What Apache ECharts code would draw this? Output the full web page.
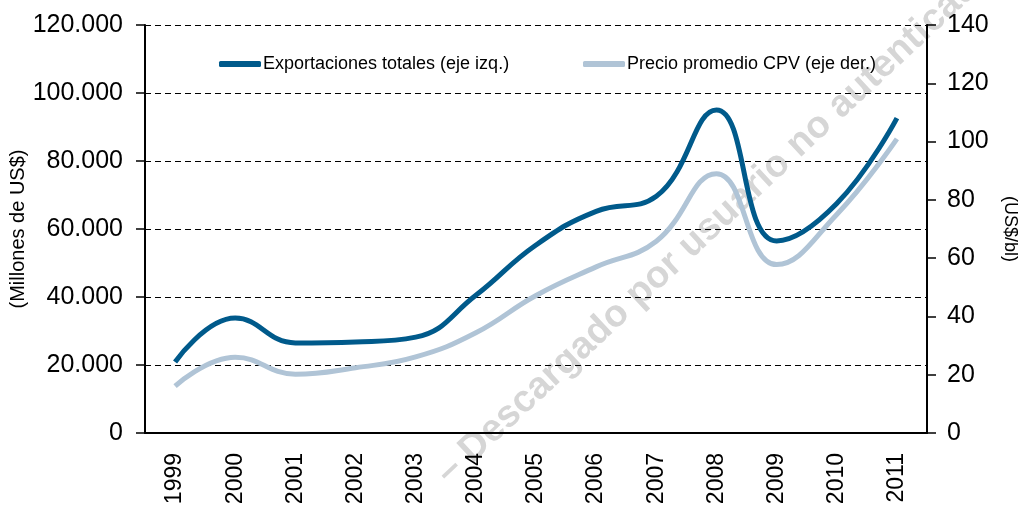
<!DOCTYPE html>
<html>
<head>
<meta charset="utf-8">
<script src="https://cdn.jsdelivr.net/npm/echarts@6/dist/echarts.min.js"></script>
<style>
  html, body { margin: 0; padding: 0; background: #fff; }
  #chart { width: 1028px; height: 509px; }
</style>
</head>
<body>
<div id="chart"></div>
<script>
var years = ['1999','2000','2001','2002','2003','2004','2005','2006','2007','2008','2009','2010','2011'];
var exportaciones = [20900, 33800, 26500, 26800, 28200, 40500, 55300, 65200, 69600, 95000, 56500, 67500, 92600];
var precioCPV = [16.1, 26.0, 20.2, 22.4, 26.1, 34.4, 47.2, 57.0, 65.8, 89.0, 57.8, 75.0, 100.9];
var leftTicks = [0, 20000, 40000, 60000, 80000, 100000, 120000];
var rightTicks = [0, 20, 40, 60, 80, 100, 120, 140];

var chart = echarts.init(document.getElementById('chart'));

function miles(v) {
    // 120000 -> 120.000
    return String(v).replace(/\B(?=(\d{3})+(?!\d))/g, '.');
}

var font = 'Liberation Sans, Arial, sans-serif';

option = {
    animation: false,
    grid: {
        left: 145,
        right: 101,
        top: 25,
        bottom: 76,
        containLabel: false,
        outerBoundsMode: 'none'
    },
    legend: [
        {
            left: 214,
            top: 50,
            itemWidth: 42,
            itemHeight: 6,
            itemGap: 4,
            icon: 'roundRect',
            textStyle: { fontFamily: font, fontSize: 18, color: '#000', padding: [0, 0, 0, -3] },
            data: ['Exportaciones totales (eje izq.)']
        },
        {
            left: 578,
            top: 50,
            itemWidth: 42,
            itemHeight: 6,
            icon: 'roundRect',
            textStyle: { fontFamily: font, fontSize: 18, color: '#000', padding: [0, 0, 0, -3] },
            data: ['Precio promedio CPV (eje der.)']
        }
    ],
    graphic: [
        {
            type: 'text',
            x: 716,
            y: 222,
            rotation: 43 * Math.PI / 180,
            z: -1,
            style: {
                text: '– Descargado por usuario no autenticado',
                font: 'bold 38px Liberation Sans, Arial, sans-serif',
                fill: '#d6d6d6',
                align: 'center',
                verticalAlign: 'middle'
            }
        }
    ],
    xAxis: {
        type: 'category',
        data: years,
        boundaryGap: true,
        axisLine: { lineStyle: { color: '#000', width: 2 } },
        axisTick: { show: false },
        axisLabel: {
            rotate: 90,
            margin: 20,
            fontFamily: font,
            fontSize: 23,
            color: '#000'
        }
    },
    yAxis: [
        {
            type: 'value',
            min: 0,
            max: 120000,
            interval: 20000,
            name: '(Millones de US$)',
            nameLocation: 'middle',
            nameRotate: 90,
            nameGap: 117,
            nameMoveOverlap: false,
            nameTextStyle: { fontFamily: font, fontSize: 20, color: '#000' },
            axisLine: { show: true, lineStyle: { color: '#000', width: 2 } },
            axisTick: { show: true, length: 9, lineStyle: { color: '#000', width: 1.5 } },
            axisLabel: {
                margin: 22,
                fontFamily: font,
                fontSize: 25,
                color: '#000',
                formatter: function (v) { return leftTicks.indexOf(v) >= 0 ? miles(v) : ''; }
            },
            splitLine: { show: true, lineStyle: { color: '#000', type: [6, 4], width: 1.2 } }
        },
        {
            type: 'value',
            min: 0,
            max: 140,
            interval: 20,
            position: 'right',
            name: '(US$/bl)',
            nameLocation: 'middle',
            nameRotate: -90,
            nameGap: 74,
            nameMoveOverlap: false,
            nameTextStyle: { fontFamily: font, fontSize: 18, color: '#000' },
            axisLine: { show: true, lineStyle: { color: '#000', width: 2 } },
            axisTick: { show: true, length: 9, lineStyle: { color: '#000', width: 1.5 } },
            axisLabel: {
                margin: 20,
                fontFamily: font,
                fontSize: 25,
                color: '#000',
                formatter: function (v) { return rightTicks.indexOf(v) >= 0 ? String(v) : ''; }
            },
            splitLine: { show: false }
        }
    ],
    series: [
        {
            name: 'Precio promedio CPV (eje der.)',
            type: 'line',
            yAxisIndex: 1,
            data: precioCPV,
            smooth: 0.45,
            symbol: 'none',
            color: '#b0c4d6',
            lineStyle: { width: 5, color: '#b0c4d6' }
        },
        {
            name: 'Exportaciones totales (eje izq.)',
            type: 'line',
            yAxisIndex: 0,
            data: exportaciones,
            smooth: 0.45,
            symbol: 'none',
            color: '#005a8b',
            lineStyle: { width: 5, color: '#005a8b' }
        }
    ]
};
chart.setOption(option);
</script>
</body>
</html>
